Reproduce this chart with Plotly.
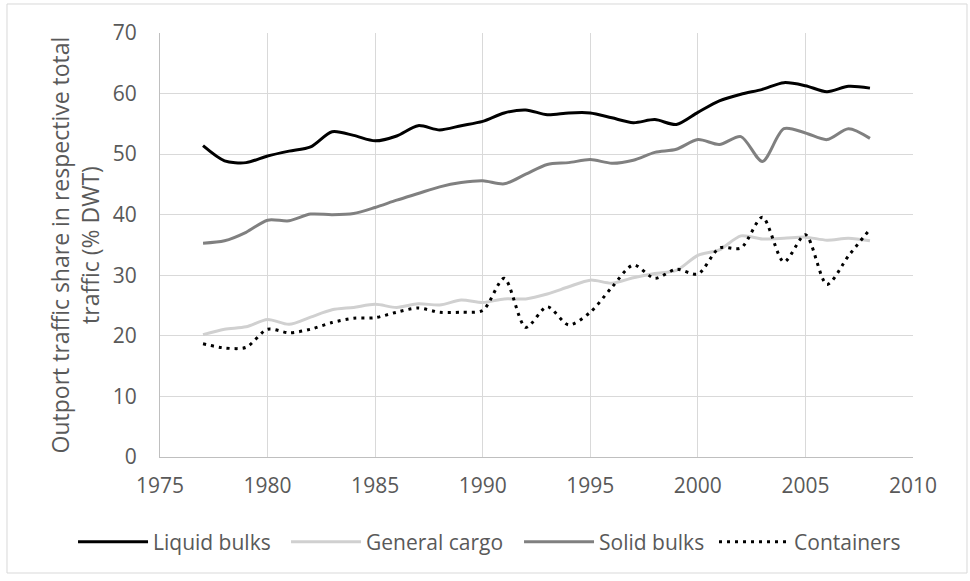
import plotly.graph_objects as go

years = list(range(1977, 2009))
liquid_bulks = [51.4, 48.9, 48.6, 49.7, 50.5, 51.2, 53.7, 53.1, 52.2, 53.0, 54.7, 54.0,
                54.7, 55.4, 56.8, 57.3, 56.5, 56.8, 56.8, 56.0, 55.2, 55.7, 54.9, 56.9,
                58.8, 59.9, 60.7, 61.8, 61.3, 60.3, 61.2, 60.9]
general_cargo = [20.2, 21.1, 21.5, 22.7, 21.9, 23.1, 24.3, 24.7, 25.2, 24.7, 25.3, 25.1,
                 25.9, 25.5, 26.1, 26.1, 26.9, 28.1, 29.2, 28.7, 29.6, 30.3, 30.8, 33.3,
                 34.2, 36.5, 36.0, 36.1, 36.3, 35.8, 36.1, 35.7]
solid_bulks = [35.3, 35.7, 37.1, 39.1, 39.0, 40.1, 40.0, 40.2, 41.2, 42.4, 43.5, 44.6,
               45.3, 45.6, 45.1, 46.7, 48.3, 48.6, 49.1, 48.5, 49.0, 50.3, 50.8, 52.4,
               51.6, 52.9, 48.8, 54.2, 53.5, 52.4, 54.2, 52.6]
containers = [18.7, 18.0, 18.1, 21.1, 20.5, 21.1, 22.2, 22.9, 23.0, 23.9, 24.6, 23.9,
              23.9, 24.2, 29.5, 21.4, 24.8, 21.8, 23.9, 28.0, 31.7, 29.5, 31.0, 30.2,
              34.5, 34.5, 39.6, 32.2, 36.7, 28.5, 33.2, 37.6]

series = [
    ("Liquid bulks", liquid_bulks, "#000000", "solid", 128),
    ("General cargo", general_cargo, "#d0d0d0", "solid", 148),
    ("Solid bulks", solid_bulks, "#808080", "solid", 110),
    ("Containers", containers, "#000000", "3px,5px", 110),
]

FONT = "Open Sans, Noto Sans, sans-serif"
TXT = "#595959"

fig = go.Figure()
for name, vals, color, dash, lw in series:
    fig.add_trace(go.Scatter(
        x=years, y=vals, name=name, mode="lines", legendwidth=lw,
        line=dict(color=color, width=3, dash=dash, shape="spline", smoothing=0.8),
    ))

fig.update_layout(
    width=970, height=581,
    margin=dict(l=160, r=57, t=33, b=124, autoexpand=False),
    paper_bgcolor="white", plot_bgcolor="white",
    font=dict(family=FONT, size=21, color=TXT),
    showlegend=True,
    legend=dict(orientation="h", xref="paper", yref="paper",
                x=-0.1155, xanchor="left", y=-0.2005, yanchor="middle",
                itemwidth=70, font=dict(size=21, color=TXT), traceorder="normal",
                bgcolor="rgba(0,0,0,0)"),
    xaxis=dict(range=[1975, 2010], dtick=5, tick0=1975, showgrid=True,
               gridcolor="#d9d9d9", gridwidth=1, showline=True, linecolor="#bfbfbf",
               linewidth=1, zeroline=False, ticks="", ticklabelstandoff=10,
               automargin=False, tickfont=dict(size=21, color=TXT)),
    yaxis=dict(range=[0, 70], dtick=10, showgrid=True, gridcolor="#d9d9d9",
               gridwidth=1, showline=True, linecolor="#bfbfbf", linewidth=1,
               zeroline=False, ticks="", ticklabelstandoff=18, automargin=False,
               tickfont=dict(size=21, color=TXT),
               title=dict(text="Outport traffic share in respective total<br>traffic (% DWT)",
                          font=dict(size=23, color=TXT), standoff=6)),
    shapes=[dict(type="rect", xref="paper", yref="paper",
                 x0=-0.2032, x1=1.0717, y0=-0.2736, y1=1.0684,
                 line=dict(color="#d9d9d9", width=1), fillcolor="rgba(0,0,0,0)",
                 layer="below")],
)

fig.write_html("out.html", config={"displayModeBar": False},
               post_script="document.body.style.margin='0';")
